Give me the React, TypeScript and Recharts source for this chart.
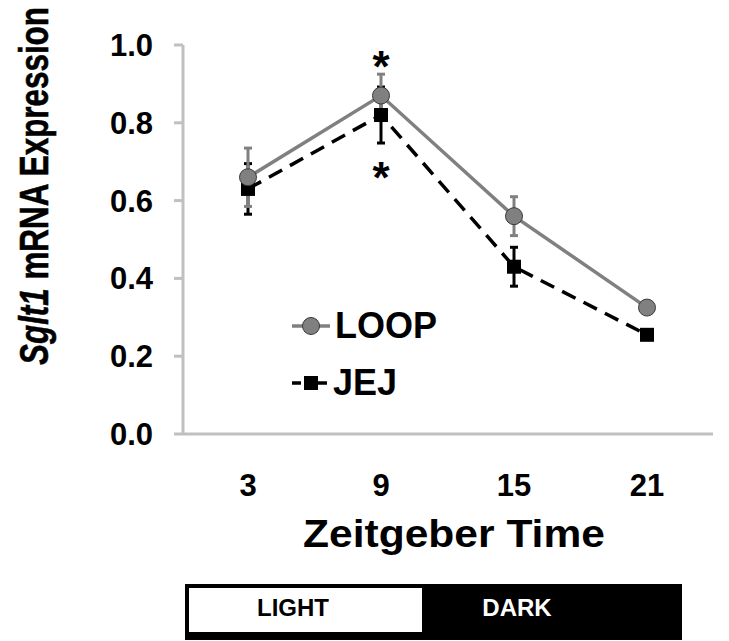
import React from "react";
import {
  LineChart, Line, XAxis, YAxis, ErrorBar, Legend, LabelList,
} from "recharts";

// Zeitgeber time points
const zt = ["3", "9", "15", "21"];

// Sglt1 mRNA expression, mean +/- error
const loopMean = [0.66, 0.87, 0.56, 0.325];
const loopErr = [0.075, 0.055, 0.05, 0.01];
const jejMean = [0.63, 0.82, 0.43, 0.255];
const jejErr = [0.065, 0.072, 0.05, 0.01];

// significance marks
const loopSig = ["", "*", "", ""];
const jejSig = ["", "*", "", ""];

const yTicks = [0, 0.2, 0.4, 0.6, 0.8, 1.0];

const data = zt.map((t, i) => ({
  zt: t,
  loop: loopMean[i],
  loopErr: loopErr[i],
  loopSig: loopSig[i],
  jej: jejMean[i],
  jejErr: jejErr[i],
  jejSig: jejSig[i],
}));

const FONT = "'Liberation Sans', Arial, sans-serif";
const GREY = "#808080";
const AXIS = "#c0c0c0";

const SquareDot = (props: { cx?: number; cy?: number; index?: number }) => {
  const { cx = 0, cy = 0, index } = props;
  return <rect key={`sq-${index}`} x={cx - 7} y={cy - 7} width={14} height={14} fill="#000" />;
};

const Star = (shift: number) => (props: any) => {
  const { x, y, value, index } = props;
  if (!value) return null;
  return (
    <text key={`st-${index}`} x={x} y={y + shift} textAnchor="middle"
      fontFamily={FONT} fontWeight="bold" fontSize={44} fill="#000">
      {value}
    </text>
  );
};

const LegendBox = () => (
  <div style={{ fontFamily: FONT, fontWeight: "bold", fontSize: 36, color: "#000" }}>
    <div style={{ display: "flex", alignItems: "center", height: 57 }}>
      <svg width={43} height={20}>
        <line x1={0} y1={10} x2={38} y2={10} stroke={GREY} strokeWidth={3.5} />
        <circle cx={19} cy={10} r={8.5} fill={GREY} stroke="#3a3a3a" strokeWidth={1} />
      </svg>
      <span>LOOP</span>
    </div>
    <div style={{ display: "flex", alignItems: "center", height: 57 }}>
      <svg width={41} height={20}>
        <line x1={0} y1={10} x2={38} y2={10} stroke="#000" strokeWidth={3.5} strokeDasharray="9 4" />
        <rect x={12} y={3} width={14} height={14} fill="#000" />
      </svg>
      <span>JEJ</span>
    </div>
  </div>
);

const YTitle = () => (
  <text transform="translate(48,186) rotate(-90) scale(0.765,1)" textAnchor="middle"
    fontFamily={FONT} fontWeight="bold" fontSize={41} fill="#000" stroke="#000" strokeWidth={0.6}>
    <tspan fontStyle="italic">Sglt1</tspan> mRNA Expression
  </text>
);

export default function App() {
  return (
    <div style={{ position: "absolute", left: 0, top: 0, width: 729, height: 641, background: "#fff" }}>
      <LineChart width={729} height={641} data={data}
        margin={{ top: 45, right: 16, bottom: 147, left: 83 }}>
        <XAxis dataKey="zt" type="category" height={60}
          padding={{ left: 65, right: 66 }}
          axisLine={{ stroke: AXIS, strokeWidth: 3 }}
          tickLine={false} tickSize={0} tickMargin={40}
          tick={{ fill: "#000", fontSize: 31, fontWeight: "bold", fontFamily: FONT }}
          label={{
            value: "Zeitgeber Time", position: "insideBottom", offset: 0,
            content: () => (
              <text transform="translate(454,547) scale(1.12,1)" textAnchor="middle"
                fontFamily={FONT} fontWeight="bold" fontSize={38} fill="#000">
                Zeitgeber Time
              </text>
            ),
          }}
        />
        <YAxis type="number" domain={[0, 1]} ticks={yTicks} width={100}
          interval={0}
          tickFormatter={(v: number) => v.toFixed(1)}
          axisLine={{ stroke: AXIS, strokeWidth: 3 }}
          tickLine={{ stroke: AXIS, strokeWidth: 3 }}
          tickSize={9} tickMargin={21}
          tick={{ fill: "#000", fontSize: 31, fontWeight: "bold", fontFamily: FONT }}
          label={{ value: "Sglt1 mRNA Expression", content: () => <YTitle /> }}
        />
        <Legend layout="vertical" align="center" verticalAlign="middle"
          content={() => <LegendBox />}
          wrapperStyle={{ left: 292, top: 297, width: 200, height: 114 }} />
        <Line dataKey="jej" stroke="#000" strokeWidth={3.5} strokeDasharray="15 9"
          dot={<SquareDot />} activeDot={false} isAnimationActive={false}>
          <ErrorBar dataKey="jejErr" direction="y" width={4} stroke="#000" strokeWidth={3}
            isAnimationActive={false} />
          <LabelList dataKey="jejSig" content={Star(78)} />
        </Line>
        <Line dataKey="loop" stroke={GREY} strokeWidth={3.5}
          dot={{ r: 8.5, fill: GREY, stroke: "#3a3a3a", strokeWidth: 1 }}
          activeDot={false} isAnimationActive={false}>
          <ErrorBar dataKey="loopErr" direction="y" width={4} stroke={GREY} strokeWidth={3}
            isAnimationActive={false} />
          <LabelList dataKey="loopSig" content={Star(-14)} />
        </Line>
      </LineChart>
      <div style={{ position: "absolute", left: 185, top: 584, width: 497, height: 56, background: "#000" }} />
      <div style={{ position: "absolute", left: 189, top: 588, width: 233, height: 44, background: "#fff" }} />
      <div style={{
        position: "absolute", left: 233, top: 584, width: 120, height: 48, lineHeight: "48px",
        textAlign: "center", fontFamily: FONT, fontWeight: "bold", fontSize: 24, color: "#000",
      }}>LIGHT</div>
      <div style={{
        position: "absolute", left: 457, top: 584, width: 120, height: 48, lineHeight: "48px",
        textAlign: "center", fontFamily: FONT, fontWeight: "bold", fontSize: 24, color: "#fff",
      }}>DARK</div>
    </div>
  );
}
